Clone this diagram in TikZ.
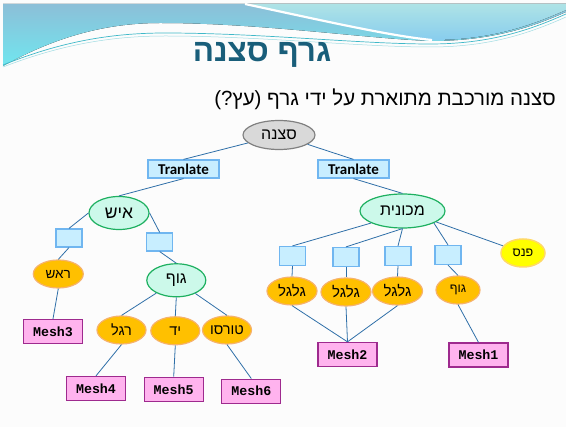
\documentclass[tikz,border=0pt]{standalone}
\usepackage{fontspec}
\setmainfont{Liberation Sans}
\newfontfamily\heb[Script=Hebrew]{Liberation Sans}
\newfontfamily\monof{Liberation Mono}
\newfontfamily\calf{Carlito}
\TeXXeTstate=1
\usetikzlibrary{shapes.geometric}
\newcommand{\hb}[1]{{\heb\beginR #1\endR}}
\definecolor{bgc}{HTML}{FCFCFC}
\definecolor{hdrdark}{HTML}{8CBFD8}
\definecolor{hdrcyan}{HTML}{70E6EF}
\definecolor{hdrlightA}{HTML}{AEE3E6}
\definecolor{hdrlightB}{HTML}{88CDEE}
\definecolor{hdrline}{HTML}{3FB8C8}
\definecolor{titlec}{HTML}{195E7A}
\definecolor{edgec}{HTML}{2F6FA8}
\definecolor{greenfill}{HTML}{CCF9EA}
\definecolor{greenline}{HTML}{1EB060}
\definecolor{orangefill}{HTML}{FFC000}
\definecolor{orangeline}{HTML}{F6B26B}
\definecolor{grayfill}{HTML}{D9D9D9}
\definecolor{grayline}{HTML}{808080}
\definecolor{boxfill}{HTML}{C8EEFF}
\definecolor{boxline}{HTML}{70B6F0}
\definecolor{meshfill}{HTML}{FFB3EE}
\definecolor{meshline}{HTML}{9E2A8E}
\definecolor{yellowfill}{HTML}{FFFF00}
\definecolor{yellowline}{HTML}{FFD966}
\begin{document}
\begin{tikzpicture}[x=1pt,y=-1pt,
  edge/.style={draw=edgec, line width=0.8pt},
  oval/.style={ellipse, inner sep=0pt, line width=1.2pt, font=\heb\fontsize{14.5}{16}\selectfont},
  greenoval/.style={oval, fill=greenfill, draw=greenline, minimum width=60pt, minimum height=33pt, font=\heb\fontsize{16}{18}\selectfont},
  orangeoval/.style={oval, fill=orangefill, draw=orangeline, minimum width=49pt, minimum height=28pt},
  grayoval/.style={oval, fill=grayfill, draw=grayline, minimum width=72pt, minimum height=29pt},
  yellowoval/.style={oval, fill=yellowfill, draw=yellowline, minimum width=44pt, minimum height=28pt, line width=1.5pt},
  sbox/.style={rectangle, inner sep=0pt, fill=boxfill, draw=boxline, line width=1.2pt, minimum width=26pt, minimum height=18pt},
  tbox/.style={sbox, minimum width=71pt, minimum height=18pt, font=\calf\bfseries\fontsize{15}{16}\selectfont},
  meshbox/.style={rectangle, inner sep=0pt, fill=meshfill, draw=meshline, line width=1.3pt, minimum width=59pt, minimum height=24pt, font=\monof\bfseries\fontsize{13.3}{14}\selectfont}
]
\useasboundingbox (0,0) rectangle (566,427);
\fill[bgc] (0,0) rectangle (566,427);
% header
\fill[top color=hdrdark, bottom color=hdrcyan] (3,4) -- (566,4) -- (566,12) .. controls (530,28) and (490,41) .. (430,41) .. controls (360,38) and (260,23) .. (160,23) .. controls (100,23) and (50,40) .. (3,66) -- cycle;
\fill[top color=hdrlightA, bottom color=hdrlightB] (245,4) .. controls (320,20) and (390,36) .. (432,40) .. controls (490,40) and (530,26) .. (566,10) -- (566,4) -- cycle;
\draw[white, line width=2.2pt] (245,4) .. controls (320,20) and (390,36) .. (432,40);
\draw[hdrline, line width=0.7pt] (3,65) .. controls (60,42) and (110,33) .. (165,33) .. controls (260,33) and (360,44) .. (430,44) .. controls (490,44) and (530,30) .. (566,14);
\draw[hdrline!50, line width=0.5pt] (3,67) .. controls (60,45) and (110,36) .. (165,36) .. controls (260,36) and (360,47) .. (430,47) .. controls (490,47) and (530,33) .. (566,17);
% title and subtitle
\node[text=titlec, font=\heb\bfseries\fontsize{31.5}{34}\selectfont] (title) at (262,55) {\hb{גרף סצנה}};
\node[anchor=east, font=\heb\fontsize{20.5}{23}\selectfont, inner sep=0pt] (sub) at (556,99) {\hb{סצנה מורכבת מתוארת על ידי גרף (עץ?)}};
% nodes
\node[grayoval, font=\heb\fontsize{16}{18}\selectfont] (root) at (279,135) {\hb{סצנה}};
\node[tbox] (tl) at (183.5,169) {Tranlate};
\node[tbox] (tr) at (353.5,169) {Tranlate};
\node[greenoval, font=\heb\fontsize{17.5}{19}\selectfont] (ish) at (119,213) {\hb{איש}};
\node[sbox] (b1) at (69,238) {};
\node[sbox] (b2) at (159.7,242) {};
\node[orangeoval, minimum width=50pt, font=\heb\fontsize{13.5}{15}\selectfont] (rosh) at (58.3,274) {\hb{ראש}};
\node[meshbox] (mesh3) at (53,331.5) {Mesh3};
\node[greenoval, minimum width=59pt] (guf) at (176.3,280.3) {\hb{גוף}};
\node[orangeoval] (regel) at (121.5,330) {\hb{רגל}};
\node[orangeoval] (yad) at (175.3,330.8) {\hb{יד}};
\node[orangeoval] (torso) at (227,330) {\hb{טורסו}};
\node[meshbox] (mesh4) at (96,388.5) {Mesh4};
\node[meshbox] (mesh5) at (173.7,389.3) {Mesh5};
\node[meshbox] (mesh6) at (251.3,391.2) {Mesh6};
\node[greenoval, minimum width=85pt, minimum height=34pt] (mech) at (402.5,211) {\hb{מכונית}};
\node[sbox, minimum height=19pt] (rb1) at (292.5,256) {};
\node[sbox, minimum height=19pt] (rb2) at (346,257) {};
\node[sbox, minimum height=19pt] (rb3) at (398,256) {};
\node[sbox, minimum height=19pt] (rb4) at (448,255) {};
\node[yellowoval, font=\heb\fontsize{12.5}{15}\selectfont] (panas) at (523,253) {\hb{פנס}};
\node[orangeoval, minimum width=50pt, font=\heb\fontsize{15}{17}\selectfont] (g1) at (292,291) {\hb{גלגל}};
\node[orangeoval, minimum width=50pt, font=\heb\fontsize{15}{17}\selectfont] (g2) at (346,292) {\hb{גלגל}};
\node[orangeoval, minimum width=50pt, font=\heb\fontsize{15}{17}\selectfont] (g3) at (397.5,291) {\hb{גלגל}};
\node[orangeoval, minimum width=44pt, font=\heb\fontsize{12.5}{15}\selectfont] (gufr) at (458,290) {\hb{גוף}};
\node[meshbox] (mesh2) at (347.5,354.5) {Mesh2};
\node[meshbox] (mesh1) at (478.5,355) {Mesh1};
% edges
\draw[edge] (root) -- (tl.north);
\draw[edge] (root) -- (tr.north);
\draw[edge] (tl.south) -- (ish.north);
\draw[edge] (tr.south) -- (mech.north);
\draw[edge] (ish.west) -- (b1.north);
\draw[edge] (ish.east) -- (b2.north);
\draw[edge] (b1.south) -- (rosh.north);
\draw[edge] (b2.south) -- (guf.north);
\draw[edge] (rosh.south) -- (mesh3.north);
\draw[edge] (guf) -- (regel.north);
\draw[edge] (guf.south) -- (yad.north);
\draw[edge] (guf) -- (torso.north);
\draw[edge] (regel.south) -- (mesh4.north);
\draw[edge] (yad.south) -- (mesh5.north);
\draw[edge] (torso.south) -- (mesh6.north);
\draw[edge] (mech.201) -- (rb1.north);
\draw[edge] (mech.south) -- (rb2.north);
\draw[edge] (mech.south) -- (rb3.north);
\draw[edge] (mech.-21) -- (rb4.north);
\draw[edge] (mech.-18) -- (panas);
\draw[edge] (rb1.south) -- (g1.north);
\draw[edge] (rb2.south) -- (g2.north);
\draw[edge] (rb3.south) -- (g3.north);
\draw[edge] (rb4.south) -- (gufr.north);
\draw[edge] (g1.south) -- (mesh2.north);
\draw[edge] (g2.south) -- (mesh2.north);
\draw[edge] (g3.south) -- (mesh2.north);
\draw[edge] (gufr.south) -- (mesh1.north);
\end{tikzpicture}
\end{document}
